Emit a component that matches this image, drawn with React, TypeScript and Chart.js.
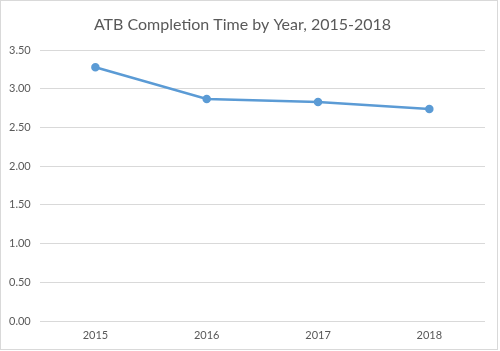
import React, { useEffect, useRef } from "react";
import { Chart, registerables } from "chart.js";

Chart.register(...registerables);

const years = ["2015", "2016", "2017", "2018"];
const completionTime = [3.28, 2.87, 2.83, 2.74];
const titleText = "ATB Completion Time by Year, 2015-2018";

export default function App() {
  const ref = useRef<HTMLCanvasElement | null>(null);
  useEffect(() => {
    document.body.style.margin = "0";
    const ctx = ref.current!;
    const chart = new Chart(ctx, {
      type: "line",
      data: {
        labels: years,
        datasets: [
          {
            data: completionTime,
            borderColor: "#5b9bd5",
            backgroundColor: "#5b9bd5",
            borderWidth: 2.5,
            pointRadius: 3,
            pointHoverRadius: 3,
            tension: 0,
          },
        ],
      },
      options: {
        animation: false,
        responsive: false,
        layout: { padding: { left: 0, right: 15, top: 15, bottom: 0 } },
        plugins: {
          legend: { display: false },
          tooltip: { enabled: false },
          title: {
            display: true,
            text: titleText,
            color: "#595959",
            font: { family: "Lato, 'Liberation Sans', sans-serif", size: 16, weight: "normal" },
            padding: { top: 0, bottom: 16 },
          },
        },
        scales: {
          x: {
            offset: true,
            grid: { display: false, drawTicks: false },
            border: { display: false },
            ticks: {
              color: "#595959",
              font: { family: "Lato, 'Liberation Sans', sans-serif", size: 11 },
              padding: 8,
            },
            afterFit: (scale: any) => {
              scale.height = 30;
            },
          },
          y: {
            min: 0,
            max: 3.5,
            grid: { color: "#d9d9d9", lineWidth: 1, drawTicks: false },
            border: { display: false },
            ticks: {
              stepSize: 0.5,
              color: "#595959",
              font: { family: "Lato, 'Liberation Sans', sans-serif", size: 11 },
              padding: 9,
              callback: (v: any) => Number(v).toFixed(2),
            },
          },
        },
      },
    });
    return () => chart.destroy();
  }, []);
  return (
    <div style={{ position: "absolute", left: 0, top: 0, width: 500, height: 351, background: "#fff" }}>
      <canvas ref={ref} width={500} height={351} style={{ position: "absolute", left: 0, top: 0 }} />
      <div
        style={{
          position: "absolute",
          left: 0,
          top: 0,
          width: 498,
          height: 350,
          border: "1px solid #d9d9d9",
          boxSizing: "border-box",
          pointerEvents: "none",
        }}
      />
    </div>
  );
}
